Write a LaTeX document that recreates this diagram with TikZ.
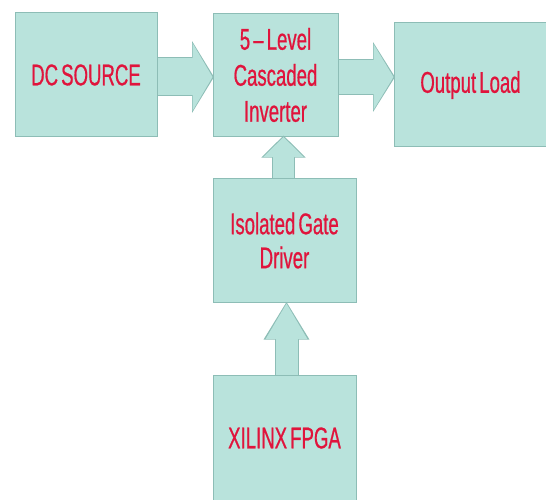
\documentclass[tikz,border=0pt]{standalone}
\usepackage{fontspec}
\newfontfamily\narrowfont[FakeStretch=0.62, FakeBold=0.6, WordSpace=0.6]{Liberation Sans}
\usetikzlibrary{positioning, arrows.meta}
\definecolor{bfill}{HTML}{B9E3DC}
\definecolor{bedge}{HTML}{8DBDB6}
\definecolor{bred}{HTML}{E0143C}
\tikzstyle{block} = [rectangle, draw=bedge, line width=1pt, fill=bfill, text=bred, align=center, font=\narrowfont\fontsize{30}{36}\selectfont]
\tikzset{pipe/.style n args={3}{draw=bfill, line width=#1, -{Triangle[length=#3, width=#2]},
  preaction={draw=bedge, line width=#1+2pt, -{Triangle[length=#3+2pt, width=#2+4pt]}, shorten >=-1.5pt}}}

\begin{document}
\begin{tikzpicture}[x=1pt, y=-1pt]
  \useasboundingbox (0,0) rectangle (546,500);
  \node (dc) [block, minimum width=142pt, minimum height=124pt] at (86,75) {DC SOURCE};
  \node (inv) [block, minimum width=125pt, minimum height=123pt, right=55pt of dc] {5 – Level\\Cascaded\\Inverter};
  \node (out) [block, minimum width=153pt, minimum height=124pt, right=55pt of inv, yshift=-10pt] {Output Load};
  \node (drv) [block, minimum width=143pt, minimum height=124pt, below=41pt of inv, xshift=9pt, font=\narrowfont\fontsize{30}{34}\selectfont] {Isolated Gate\\Driver};
  \node (fpga) [block, minimum width=143pt, minimum height=125pt, below=72pt of drv] {XILINX FPGA};
  \draw [pipe={37pt}{67pt}{20pt}] ([yshift=-2pt]dc.east) -- ([yshift=-2pt]dc.east -| inv.west);
  \draw [pipe={34pt}{65pt}{20pt}] ([yshift=-2pt]inv.east) -- ([yshift=-2pt]inv.east -| out.west);
  \draw [pipe={21pt}{39pt}{20pt}] ([xshift=-1pt]drv.north) -- ([xshift=-1pt]drv.north |- inv.south);
  \draw [pipe={22pt}{39pt}{36pt}] ([xshift=2pt]fpga.north) -- ([xshift=2pt]fpga.north |- drv.south);
\end{tikzpicture}
\end{document}
